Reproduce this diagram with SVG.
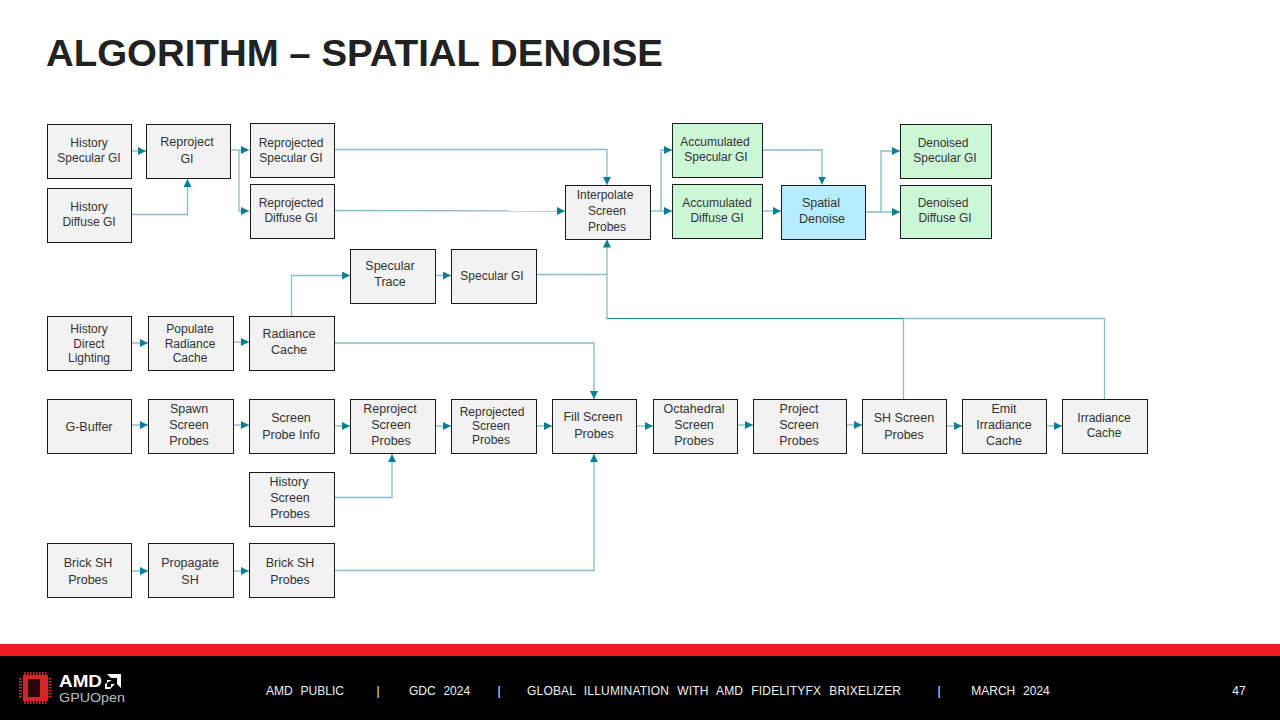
<svg xmlns="http://www.w3.org/2000/svg" width="1280" height="720" viewBox="0 0 1280 720">
<style>
text{font-family:"Liberation Sans",Arial,sans-serif;fill:#333;text-anchor:middle}
.n rect{stroke:#1a1a1a;stroke-width:1;fill:#f2f2f2}
.g rect{fill:#ccf7d6}
.b rect{fill:#b5edff}
.s{font-size:12px}
.m{font-size:12.500px}
.c path{fill:none;stroke:#86bcc8;stroke-width:1.300}
.c path.d{stroke:#2f8ca3;stroke-width:1}
.f text{fill:#f0f0f0;font-size:12px;word-spacing:4.500px}
</style>
<defs>
<marker id="a" markerUnits="userSpaceOnUse" markerWidth="9" markerHeight="9" refX="8" refY="4" orient="auto"><path d="M0 0L8 4L0 8Z" fill="#0b7f99"/></marker>
</defs>
<rect width="1280" height="720" fill="#fff"/>
<text x="46" y="65.500" style="font-size:37px;font-weight:700;text-anchor:start;fill:#222" textLength="617" lengthAdjust="spacingAndGlyphs">ALGORITHM – SPATIAL DENOISE</text>
<g id="connectors" class="c">
<path marker-end="url(#a)" d="M131.500 151H146"/>
<path marker-end="url(#a)" d="M131.500 214.500H187.500V179"/>
<path marker-end="url(#a)" d="M230 150H249"/>
<path marker-end="url(#a)" d="M239 150V211H249"/>
<path marker-end="url(#a)" d="M335 149.500H607V185"/>
<path marker-end="url(#a)" d="M335 210.500L565 211"/>
<path marker-end="url(#a)" d="M650 211H672"/>
<path marker-end="url(#a)" d="M661 211V150H672"/>
<path marker-end="url(#a)" d="M762 150H822V184.500"/>
<path marker-end="url(#a)" d="M762 211H781"/>
<path marker-end="url(#a)" d="M865 212H900"/>
<path marker-end="url(#a)" d="M881 212V151H900"/>
<path marker-end="url(#a)" d="M291.500 316V275.500H350"/>
<path marker-end="url(#a)" d="M435 275.500H451"/>
<path d="M536 274.500H607"/>
<path marker-end="url(#a)" d="M607 319V239.500"/>
<path d="M607 318.500H1104.500V399"/>
<path d="M903.500 318.500V399"/>
<path class="d" d="M607 318.500H903.500"/>
<path marker-end="url(#a)" d="M131.500 343H148"/>
<path marker-end="url(#a)" d="M233 342H249"/>
<path marker-end="url(#a)" d="M334.500 343H594V399"/>
<path marker-end="url(#a)" d="M131.500 425H148"/>
<path marker-end="url(#a)" d="M233 425H249"/>
<path marker-end="url(#a)" d="M334.500 426H350"/>
<path marker-end="url(#a)" d="M435 426H451"/>
<path marker-end="url(#a)" d="M536 426H552"/>
<path marker-end="url(#a)" d="M636 426H653"/>
<path marker-end="url(#a)" d="M737 425H753"/>
<path marker-end="url(#a)" d="M846 425H862"/>
<path marker-end="url(#a)" d="M946 426H962"/>
<path marker-end="url(#a)" d="M1046 426H1062"/>
<path marker-end="url(#a)" d="M334.500 497.500H392V454"/>
<path marker-end="url(#a)" d="M131.500 571H148"/>
<path marker-end="url(#a)" d="M233 571H249"/>
<path marker-end="url(#a)" d="M334.500 570.500H594V454"/>
</g>
<g id="n1" class="n"><rect x="47.500" y="124.500" width="84" height="54"/><text class="s" x="89" y="147">History</text><text class="s" x="89" y="162">Specular GI</text></g>
<g id="n2" class="n"><rect x="47.500" y="188.500" width="84" height="54"/><text class="s" x="89" y="211">History</text><text class="s" x="89" y="226">Diffuse GI</text></g>
<g id="n3" class="n"><rect x="146.500" y="124.500" width="84" height="54"/><text class="m" x="187" y="146">Reproject</text><text class="m" x="187" y="163">GI</text></g>
<g id="n4" class="n"><rect x="250.500" y="123.500" width="84" height="54"/><text class="s" x="291" y="147">Reprojected</text><text class="s" x="291" y="162">Specular GI</text></g>
<g id="n5" class="n"><rect x="250.500" y="184.500" width="84" height="54"/><text class="s" x="291" y="207">Reprojected</text><text class="s" x="291" y="222">Diffuse GI</text></g>
<g id="n6" class="n"><rect x="565.500" y="185.500" width="85" height="54"/><text class="s" x="605" y="199">Interpolate</text><text class="s" x="607" y="215">Screen</text><text class="s" x="607" y="231">Probes</text></g>
<g id="n7" class="n g"><rect x="672.500" y="123.500" width="90" height="54"/><text class="s" x="715" y="146">Accumulated</text><text class="s" x="716" y="161">Specular GI</text></g>
<g id="n8" class="n g"><rect x="672.500" y="184.500" width="90" height="54"/><text class="s" x="717" y="207">Accumulated</text><text class="s" x="717" y="222">Diffuse GI</text></g>
<g id="n9" class="n b"><rect x="781.500" y="185.500" width="84" height="54"/><text class="m" x="821" y="207">Spatial</text><text class="m" x="822" y="223">Denoise</text></g>
<g id="n10" class="n g"><rect x="900.500" y="124.500" width="91" height="54"/><text class="s" x="943" y="147">Denoised</text><text class="s" x="945" y="162">Specular GI</text></g>
<g id="n11" class="n g"><rect x="900.500" y="185.500" width="91" height="53"/><text class="s" x="943" y="207">Denoised</text><text class="s" x="945" y="222">Diffuse GI</text></g>
<g id="n12" class="n"><rect x="350.500" y="249.500" width="85" height="54"/><text class="m" x="390" y="270">Specular</text><text class="m" x="390" y="286">Trace</text></g>
<g id="n13" class="n"><rect x="451.500" y="249.500" width="85" height="54"/><text class="s" x="492" y="280">Specular GI</text></g>
<g id="n14" class="n"><rect x="47.500" y="316.500" width="84" height="54"/><text class="s" x="89" y="333">History</text><text class="s" x="89" y="348">Direct</text><text class="s" x="89" y="362">Lighting</text></g>
<g id="n15" class="n"><rect x="148.500" y="316.500" width="85" height="54"/><text class="s" x="190" y="333">Populate</text><text class="s" x="190" y="348">Radiance</text><text class="s" x="190" y="362">Cache</text></g>
<g id="n16" class="n"><rect x="249.500" y="316.500" width="85" height="54"/><text class="m" x="289" y="338">Radiance</text><text class="m" x="289" y="354">Cache</text></g>
<g id="n17" class="n"><rect x="47.500" y="399.500" width="84" height="54"/><text class="m" x="89" y="431">G-Buffer</text></g>
<g id="n18" class="n"><rect x="148.500" y="399.500" width="85" height="54"/><text class="m" x="189" y="413">Spawn</text><text class="m" x="189" y="429">Screen</text><text class="m" x="189" y="445">Probes</text></g>
<g id="n19" class="n"><rect x="249.500" y="399.500" width="85" height="54"/><text class="m" x="291" y="422">Screen</text><text class="m" x="291" y="439">Probe Info</text></g>
<g id="n20" class="n"><rect x="350.500" y="399.500" width="85" height="54"/><text class="m" x="390" y="413">Reproject</text><text class="m" x="391" y="429">Screen</text><text class="m" x="391" y="445">Probes</text></g>
<g id="n21" class="n"><rect x="451.500" y="399.500" width="85" height="54"/><text class="s" x="492" y="416">Reprojected</text><text class="s" x="491" y="430">Screen</text><text class="s" x="491" y="444">Probes</text></g>
<g id="n22" class="n"><rect x="552.500" y="399.500" width="84" height="54"/><text class="m" x="593" y="421">Fill Screen</text><text class="m" x="594" y="438">Probes</text></g>
<g id="n23" class="n"><rect x="653.500" y="399.500" width="84" height="54"/><text class="m" x="694" y="413">Octahedral</text><text class="m" x="694" y="429">Screen</text><text class="m" x="694" y="445">Probes</text></g>
<g id="n24" class="n"><rect x="753.500" y="399.500" width="93" height="54"/><text class="m" x="799" y="413">Project</text><text class="m" x="799" y="429">Screen</text><text class="m" x="799" y="445">Probes</text></g>
<g id="n25" class="n"><rect x="862.500" y="399.500" width="84" height="54"/><text class="m" x="904" y="422">SH Screen</text><text class="m" x="904" y="439">Probes</text></g>
<g id="n26" class="n"><rect x="962.500" y="399.500" width="84" height="54"/><text class="m" x="1004" y="413">Emit</text><text class="m" x="1004" y="429">Irradiance</text><text class="m" x="1004" y="445">Cache</text></g>
<g id="n27" class="n"><rect x="1062.500" y="399.500" width="85" height="54"/><text class="s" x="1104" y="422">Irradiance</text><text class="s" x="1104" y="437">Cache</text></g>
<g id="n28" class="n"><rect x="249.500" y="472.500" width="85" height="54"/><text class="m" x="289" y="486">History</text><text class="m" x="290" y="502">Screen</text><text class="m" x="290" y="518">Probes</text></g>
<g id="n29" class="n"><rect x="47.500" y="543.500" width="84" height="54"/><text class="m" x="88" y="567">Brick SH</text><text class="m" x="88" y="584">Probes</text></g>
<g id="n30" class="n"><rect x="148.500" y="543.500" width="85" height="54"/><text class="m" x="190" y="567">Propagate</text><text class="m" x="190" y="584">SH</text></g>
<g id="n31" class="n"><rect x="249.500" y="543.500" width="85" height="54"/><text class="m" x="290" y="567">Brick SH</text><text class="m" x="290" y="584">Probes</text></g>
<g id="footer" class="f">
<rect y="644" width="1280" height="12" fill="#ed1c24"/>
<rect y="656" width="1280" height="64" fill="#000"/>
<rect x="23" y="675" width="25" height="26" fill="#d8232a"/>
<rect x="28" y="679" width="12" height="18" fill="#2a0505"/>
<path d="M24 673.500H47M24 702.500H47M20.500 678V698M50 678V698" fill="none" stroke="#c8252b" stroke-width="3" stroke-dasharray="1.500 1.500"/>
<text x="59" y="687" style="font-size:17px;font-weight:700;text-anchor:start;fill:#fff;word-spacing:0" textLength="43" lengthAdjust="spacingAndGlyphs">AMD</text>
<path d="M107 674H121V688L117 684V678H111ZM112 680H107V687H111V684H115L110 689H105V684Z" fill="#fff"/>
<text x="59" y="702" style="font-size:13px;text-anchor:start;fill:#bdbdbd;word-spacing:0" textLength="66" lengthAdjust="spacingAndGlyphs">GPUOpen</text>
<text x="305" y="695">AMD PUBLIC</text>
<text x="378" y="695">|</text>
<text x="439.500" y="695">GDC 2024</text>
<text x="499" y="695">|</text>
<text x="714" y="695" textLength="374">GLOBAL ILLUMINATION WITH AMD FIDELITYFX BRIXELIZER</text>
<text x="939" y="695">|</text>
<text x="1010.500" y="695">MARCH 2024</text>
<text x="1239" y="695">47</text>
</g>
</svg>
